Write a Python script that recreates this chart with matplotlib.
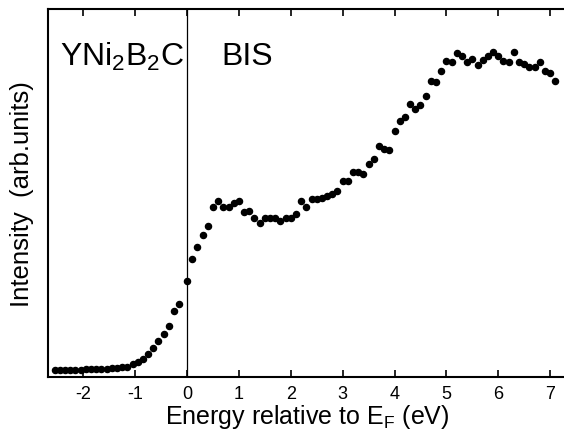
import matplotlib
matplotlib.use("Agg")
import matplotlib.pyplot as plt

plt.rcParams['font.family'] = ['Liberation Sans', 'DejaVu Sans']
plt.rcParams['mathtext.fontset'] = 'custom'
plt.rcParams['mathtext.rm'] = 'Liberation Sans'

# BIS spectrum of YNi2B2C
energy = [-2.55, -2.45, -2.35, -2.25, -2.15, -2.05, -1.95, -1.85, -1.75, -1.65,
          -1.55, -1.45, -1.35, -1.25, -1.15, -1.05, -0.95, -0.85, -0.75, -0.65,
          -0.55, -0.45, -0.35, -0.25, -0.15, 0.0, 0.1, 0.2, 0.3, 0.4,
          0.5, 0.6, 0.7, 0.8, 0.9, 1.0, 1.1, 1.2, 1.3, 1.4,
          1.5, 1.6, 1.7, 1.8, 1.9, 2.0, 2.1, 2.2, 2.3, 2.4,
          2.5, 2.6, 2.7, 2.8, 2.9, 3.0, 3.1, 3.2, 3.3, 3.4,
          3.5, 3.6, 3.7, 3.8, 3.9, 4.0, 4.1, 4.2, 4.3, 4.4,
          4.5, 4.6, 4.7, 4.8, 4.9, 5.0, 5.1, 5.2, 5.3, 5.4,
          5.5, 5.6, 5.7, 5.8, 5.9, 6.0, 6.1, 6.2, 6.3, 6.4,
          6.5, 6.6, 6.7, 6.8, 6.9, 7.0, 7.1]
intensity = [1.9, 1.9, 1.9, 1.9, 2.0, 2.0, 2.1, 2.1, 2.2, 2.2,
             2.3, 2.4, 2.5, 2.6, 2.8, 3.6, 4.1, 4.8, 6.2, 8.0,
             9.8, 11.8, 13.9, 18.0, 19.8, 26.1, 32.0, 35.2, 38.6, 41.1,
             46.3, 47.8, 46.1, 46.1, 47.4, 47.9, 44.7, 45.1, 43.3, 41.8,
             43.1, 43.1, 43.1, 42.4, 43.1, 43.3, 44.4, 47.9, 46.1, 48.3,
             48.3, 48.5, 49.2, 49.7, 50.4, 53.3, 53.3, 55.8, 55.8, 55.1,
             57.8, 59.2, 62.8, 61.9, 61.6, 66.9, 69.6, 70.5, 74.2, 72.8,
             73.9, 76.4, 80.5, 80.2, 83.0, 85.9, 85.7, 88.0, 87.3, 85.5,
             86.4, 84.8, 86.2, 87.1, 88.4, 87.3, 85.9, 85.7, 88.2, 85.5,
             85.0, 84.1, 84.1, 85.5, 83.0, 82.6, 80.5]
xticks = [-2, -1, 0, 1, 2, 3, 4, 5, 6, 7]

fig = plt.figure(figsize=(5.64, 4.31), dpi=100)
ax = fig.add_axes([0.0851, 0.123, 0.918, 0.854])

ax.plot(energy, intensity, 'o', color='black', ms=4.4, mec='black')
ax.axvline(0, color='black', lw=0.9)

ax.set_xlim(-2.68, 7.3)
ax.set_ylim(0, 100)
ax.set_xticks(xticks)
ax.set_xticklabels([str(t) for t in xticks])
ax.set_yticks([])
ax.tick_params(axis='x', direction='in', top=True, length=5, width=1.2,
               labelsize=13, pad=6)
for s in ax.spines.values():
    s.set_linewidth(1.5)

ax.set_xlabel(r'Energy relative to E$_\mathrm{F}$ (eV)', fontsize=18, labelpad=0)
ax.set_ylabel('Intensity  (arb.units)', fontsize=18.5, labelpad=10)

ax.text(-2.45, 87.2, r'YNi$_2$B$_2$C', fontsize=23, ha='left', va='center')
ax.text(0.66, 87.2, 'BIS', fontsize=23, ha='left', va='center')

fig.savefig('out.png', dpi=100)
